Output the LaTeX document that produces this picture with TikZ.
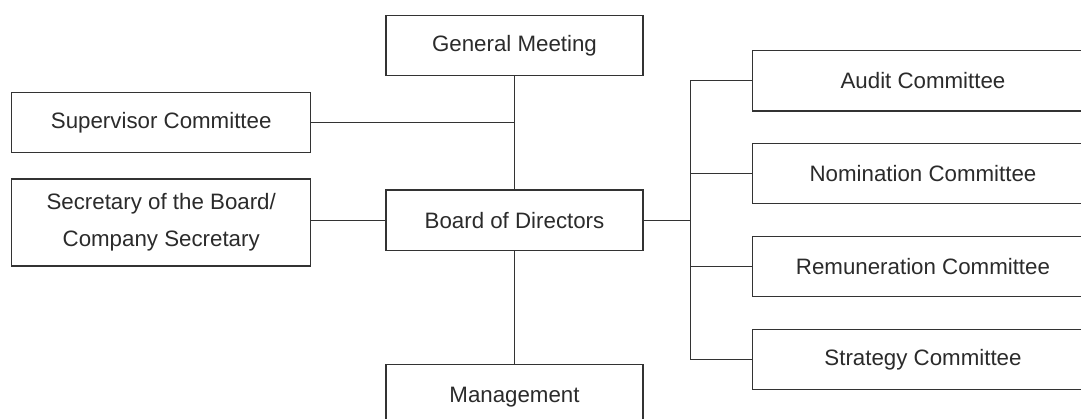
\documentclass[tikz,border=0pt]{standalone}
\usepackage{fontspec}
\setmainfont{Liberation Sans}
\definecolor{ln}{HTML}{333333}
\definecolor{tx}{HTML}{2B2B2B}
\begin{document}
\begin{tikzpicture}[x=1pt,y=-1pt,
  box/.style={draw=ln, line width=1.2pt, rectangle, inner sep=0pt, text=tx,
    font=\fontsize{22.3}{36.6}\selectfont, align=center},
  midbox/.style={box, minimum width=257pt, minimum height=60pt},
  leftbox/.style={box, minimum width=299pt},
  rightbox/.style={box, minimum width=340.6pt, minimum height=60.3pt},
  conn/.style={draw=ln, line width=1.2pt}]
\useasboundingbox (0,0) rectangle (1081,419);
\clip (0,0) rectangle (1081,419);
\fill[white] (0,0) rectangle (1081,419);

\node[midbox] (gm) at (514.5,45.3) {General Meeting};
\node[midbox, minimum height=60.3pt] (board) at (514.5,220.2) {Board of Directors};
\node[midbox, minimum height=66pt] (mgmt) at (514.5,397.3) {Management};

\node[leftbox, minimum height=60pt] (sup) at (161.2,122.3) {Supervisor Committee};
\node[leftbox, minimum height=87pt] (sec) at (161.2,222.5) {Secretary of the Board/\\Company Secretary};

\node[rightbox] (audit) at (923,80.8) {Audit Committee};
\node[rightbox] (nom) at (923,173.7) {Nomination Committee};
\node[rightbox] (rem) at (923,266.5) {Remuneration Committee};
\node[rightbox] (strat) at (923,359.4) {Strategy Committee};

\coordinate (bus) at (690.7,220.2);

\draw[conn] (gm.south) -- (board.north);
\draw[conn] (sup.east) -- (sup.east -| gm.south);
\draw[conn] (board.west) -- (board.west -| sec.east);
\draw[conn] (board.south) -- (mgmt.north);
\draw[conn] (board.east) -- (bus);
\draw[conn] (audit.west) -- (audit.west -| bus) -- (strat.west -| bus) -- (strat.west);
\draw[conn] (nom.west) -- (nom.west -| bus);
\draw[conn] (rem.west) -- (rem.west -| bus);
\end{tikzpicture}
\end{document}
